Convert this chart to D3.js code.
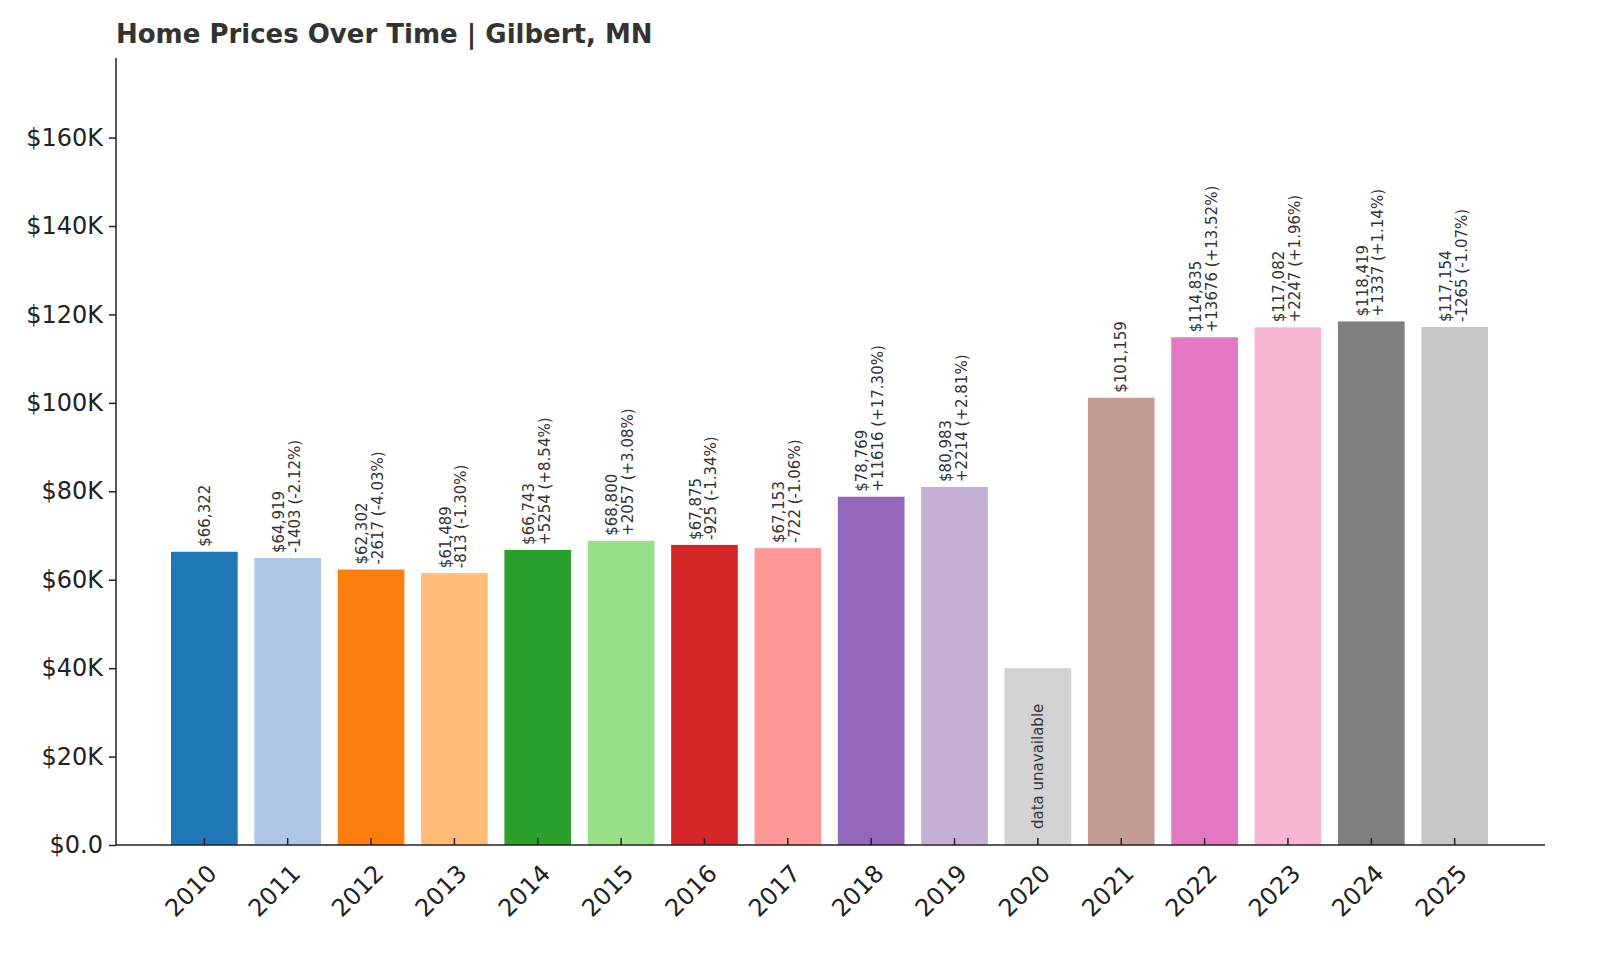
<!DOCTYPE html>
<html lang="en">
<head>
<meta charset="UTF-8">
<title>Home Prices Over Time | Gilbert, MN</title>
<script src="https://cdn.jsdelivr.net/npm/d3@7"></script>
<style>
  body { margin: 0; background: #fff; font-family: "DejaVu Sans", sans-serif; }
  .axis text { font-size: 24px; fill: #222; font-family: "DejaVu Sans", sans-serif; }
  .axis path, .axis line { stroke: #222; stroke-width: 1.5; }
  .lbl { font-size: 15px; fill: #333; }
</style>
</head>
<body>
<svg id="chart" width="1600" height="960"></svg>
<script>
// Data
let years = ['2010','2011','2012','2013','2014','2015','2016','2017','2018','2019','2020','2021','2022','2023','2024','2025'];
let prices = [66322, 64919, 62302, 61489, 66743, 68800, 67875, 67153, 78769, 80983, 40000, 101159, 114835, 117082, 118419, 117154];
let changes = ['', '-1403 (-2.12%)', '-2617 (-4.03%)', '-813 (-1.30%)', '+5254 (+8.54%)', '+2057 (+3.08%)', '-925 (-1.34%)', '-722 (-1.06%)', '+11616 (+17.30%)', '+2214 (+2.81%)', '', '', '+13676 (+13.52%)', '+2247 (+1.96%)', '+1337 (+1.14%)', '-1265 (-1.07%)'];
let missing = ['2020'];
let colors = ['#1f77b4','#aec7e8','#ff7f0e','#ffbb78','#2ca02c','#98df8a','#d62728','#ff9896','#9467bd','#c5b0d5','#d3d3d3','#c49c94','#e377c2','#f7b6d2','#7f7f7f','#c7c7c7'];
let yTicks = [0, 20000, 40000, 60000, 80000, 100000, 120000, 140000, 160000];

let svg = d3.select('#chart');
let mLeft = 116, mRight = 1545, mTop = 58, mBottom = 845;

let x = d3.scaleBand().domain(years).range([171, 1488]).paddingInner(0.2);
let y = d3.scaleLinear().domain([0, 178000]).range([mBottom, mTop]);

// Title
svg.append('text').attr('x', mLeft).attr('y', 43)
   .style('font-size', '26px').style('font-weight', 'bold').style('fill', '#333')
   .text('Home Prices Over Time | Gilbert, MN');

// Bars
svg.selectAll('rect.bar').data(years).enter().append('rect')
   .attr('class', 'bar')
   .attr('x', d => x(d))
   .attr('width', x.bandwidth())
   .attr('y', (d, i) => y(prices[i]))
   .attr('height', (d, i) => mBottom - y(prices[i]))
   .attr('fill', (d, i) => colors[i]);

// Labels
years.forEach((yr, i) => {
  let cx = x(yr) + x.bandwidth() / 2;
  if (missing.includes(yr)) {
    svg.append('text').attr('class', 'lbl')
       .attr('transform', `translate(${cx + 5},${mBottom - 16}) rotate(-90)`)
       .text('data unavailable');
    return;
  }
  let ty = y(prices[i]) - 5;
  let t = svg.append('text').attr('class', 'lbl')
     .attr('transform', `translate(${cx},${ty}) rotate(-90)`);
  if (changes[i]) {
    t.append('tspan').attr('x', 0).attr('dy', '-0.25em').text('$' + d3.format(',')(prices[i]));
    t.append('tspan').attr('x', 0).attr('dy', '1.05em').text(changes[i]);
  } else {
    t.append('tspan').attr('x', 0).attr('dy', '0.35em').text('$' + d3.format(',')(prices[i]));
  }
});

// Axes
let yAxis = d3.axisLeft(y).tickValues(yTicks).tickSizeOuter(0).tickSize(7).tickPadding(6)
  .tickFormat(d => d === 0 ? '$0.0' : '$' + d / 1000 + 'K');
let gy = svg.append('g').attr('class', 'axis').attr('transform', `translate(${mLeft},0)`).call(yAxis);
gy.select('.domain').attr('d', `M0,${mTop}V${mBottom}`);

let xAxis = d3.axisBottom(x).tickSize(7).tickSizeOuter(0);
let gx = svg.append('g').attr('class', 'axis').attr('transform', `translate(0,${mBottom})`).call(xAxis);
gx.select('.domain').attr('d', `M${mLeft},0H${mRight}`);
gx.selectAll('.tick line').attr('y2', -7);
gx.selectAll('.tick text')
  .attr('text-anchor', 'end')
  .attr('dy', 0)
  .attr('y', 0)
  .attr('transform', 'translate(14,30) rotate(-45)');
</script>
</body>
</html>
